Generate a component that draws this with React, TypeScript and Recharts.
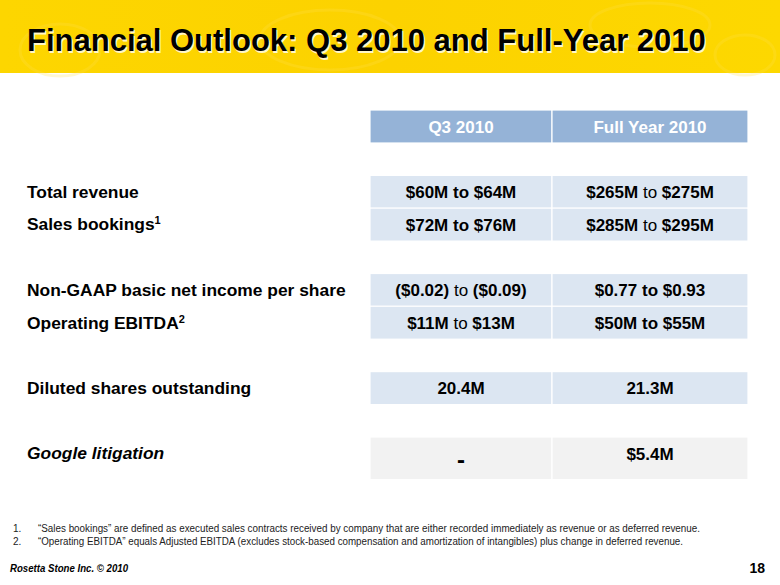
import React from 'react';
import { BarChart, Bar, XAxis, YAxis, LabelList, Customized } from 'recharts';

// ---------- data ----------
const rowKinds = ['head', 'gap', 'data', 'data', 'gap', 'data', 'data', 'gap', 'data', 'gap', 'lit'];
const rowLabels = [
  '',
  '',
  'Total revenue',
  'Sales bookings',
  '',
  'Non-GAAP basic net income per share',
  'Operating EBITDA',
  '',
  'Diluted shares outstanding',
  '',
  'Google litigation',
];
const rowNotes = ['', '', '', '1', '', '', '2', '', '', '', ''];
const q3Values: (string | null)[] = [
  'Q3 2010',
  null,
  '$60M to $64M',
  '$72M to $76M',
  null,
  '($0.02) to ($0.09)',
  '$11M to $13M',
  null,
  '20.4M',
  null,
  '-',
];
const fyValues: (string | null)[] = [
  'Full Year 2010',
  null,
  '$265M to $275M',
  '$285M to $295M',
  null,
  '$0.77 to $0.93',
  '$50M to $55M',
  null,
  '21.3M',
  null,
  '$5.4M',
];
const footnotes = [
  '\u201cSales bookings\u201d are defined as executed sales contracts received by company that are either recorded immediately as revenue or as deferred revenue.',
  '\u201cOperating EBITDA\u201d equals Adjusted EBITDA (excludes stock-based compensation and amortization of intangibles) plus change in deferred revenue.',
];
const titleText = 'Financial Outlook: Q3 2010 and Full-Year 2010';
const footerText = 'Rosetta Stone Inc. \u00a9 2010';
const pageNumber = '18';

// ---------- layout / style ----------
const W = 780;
const H = 585;
const COL_WIDTHS = [182, 196];
const REGULAR_TO = new Set(['$265M to $275M', '$285M to $295M', '($0.02) to ($0.09)', '$11M to $13M']);
const FONT = 'Arial, "Liberation Sans", Helvetica, sans-serif';
const FILLS: Record<string, string> = { head: '#95b3d7', data: '#dce6f2', lit: '#f2f2f2' };

const rows = rowLabels.map((label, i) => ({
  id: 'r' + i,
  label,
  note: rowNotes[i],
  kind: rowKinds[i],
  q3Text: q3Values[i],
  fyText: fyValues[i],
  q3: q3Values[i] == null ? null : COL_WIDTHS[0],
  fy: fyValues[i] == null ? null : COL_WIDTHS[1],
}));

const CellShape = (props: any) => {
  const { x, y, width, height, payload } = props;
  if (!payload || width == null || height == null) return null;
  const h = payload.kind === 'lit' ? height * 1.29 : height;
  return (
    <rect
      x={x}
      y={y}
      width={width}
      height={h}
      fill={FILLS[payload.kind] || '#dce6f2'}
      stroke="#ffffff"
      strokeWidth={1.2}
    />
  );
};

const makeCellLabel = (textKey: 'q3Text' | 'fyText') => (props: any) => {
  const { x, y, width, height, index } = props;
  const row = rows[index];
  if (!row) return null;
  const text = row[textKey];
  if (text == null) return null;
  const cx = x + width / 2;
  const cy = y + height / 2;
  const color = row.kind === 'head' ? '#ffffff' : '#000000';
  if (text === '-') {
    return (
      <text x={cx} y={cy + 14} textAnchor="middle" fontFamily={FONT} fontWeight="bold" fontSize={24} fill="#000">
        -
      </text>
    );
  }
  if (REGULAR_TO.has(text)) {
    const parts = text.split(' to ');
    return (
      <text x={cx} y={cy + 6} textAnchor="middle" fontFamily={FONT} fontSize={17} fill={color}>
        <tspan fontWeight="bold">{parts[0]}</tspan>
        <tspan fontWeight="normal">{' to '}</tspan>
        <tspan fontWeight="bold">{parts[1]}</tspan>
      </text>
    );
  }
  return (
    <text x={cx} y={cy + 6} textAnchor="middle" fontFamily={FONT} fontWeight="bold" fontSize={17} fill={color}>
      {text}
    </text>
  );
};

const RowTick = (props: any) => {
  const { y, payload } = props;
  const row = rows[payload.index] || rows.find((r) => r.id === payload.value);
  if (!row || !row.label) return null;
  return (
    <text
      x={27}
      y={y + 6}
      textAnchor="start"
      fontFamily={FONT}
      fontWeight="bold"
      fontStyle={row.kind === 'lit' ? 'italic' : 'normal'}
      fontSize={17.4}
      fill="#000"
    >
      {row.label}
      {row.note ? (
        <tspan fontSize={11} dy={-6}>
          {row.note}
        </tspan>
      ) : null}
    </text>
  );
};

const Decor = () => (
  <g>
    <defs>
      <linearGradient id="band" x1="0" y1="0" x2="1" y2="0">
        <stop offset="0%" stopColor="#fdd600" />
        <stop offset="50%" stopColor="#fcd200" />
        <stop offset="100%" stopColor="#fdd800" />
      </linearGradient>
    </defs>
    <rect x={0} y={0} width={W} height={73} fill="url(#band)" />
    <g fill="none" stroke="#ffe04a" strokeWidth={3} opacity={0.25}>
      <ellipse cx={60} cy={50} rx={40} ry={26} />
      <ellipse cx={330} cy={40} rx={70} ry={30} />
      <ellipse cx={650} cy={25} rx={60} ry={22} />
      <ellipse cx={745} cy={55} rx={30} ry={20} />
    </g>
    <text x={28.5} y={52.5} fontFamily={FONT} fontWeight="bold" fontSize={31} fill="#fff6c8">
      {titleText}
    </text>
    <text x={27} y={51} fontFamily={FONT} fontWeight="bold" fontSize={31} fill="#000">
      {titleText}
    </text>
    {footnotes.map((f, i) => (
      <g key={i}>
        <text x={13} y={532 + i * 13} fontFamily={FONT} fontSize={10} fill="#222">
          {i + 1 + '.'}
        </text>
        <text
          x={38}
          y={532 + i * 13}
          fontFamily={FONT}
          fontSize={10}
          fill="#222"
          textLength={i === 0 ? 662 : 645}
          lengthAdjust="spacingAndGlyphs"
        >
          {f}
        </text>
      </g>
    ))}
    <text x={10} y={572} fontFamily={FONT} fontWeight="bold" fontStyle="italic" fontSize={10} fill="#000" textLength={118} lengthAdjust="spacingAndGlyphs">
      {footerText}
    </text>
    <text x={765} y={573} textAnchor="end" fontFamily={FONT} fontWeight="bold" fontSize={14} fill="#000">
      {pageNumber}
    </text>
  </g>
);

export default function App() {
  const plotTop = 110;
  const plotBottom = 469.7;
  return (
    <div style={{ position: 'absolute', left: 0, top: 0, width: W, height: H, background: '#fff' }}>
      <BarChart
        width={W}
        height={H}
        data={rows}
        layout="vertical"
        margin={{ top: plotTop, right: W - 748, bottom: H - plotBottom, left: 0 }}
        barCategoryGap={0}
        barGap={0}
      >
        <Customized component={Decor} />
        <XAxis type="number" domain={[0, COL_WIDTHS[0] + COL_WIDTHS[1]]} hide />
        <YAxis
          type="category"
          dataKey="id"
          width={370}
          axisLine={false}
          tickLine={false}
          tick={(p: any) => <RowTick {...p} />}
          interval={0}
        />
        <Bar dataKey="q3" stackId="t" isAnimationActive={false} shape={(p: any) => <CellShape {...p} />}>
          <LabelList dataKey="q3" content={makeCellLabel('q3Text')} />
        </Bar>
        <Bar dataKey="fy" stackId="t" isAnimationActive={false} shape={(p: any) => <CellShape {...p} />}>
          <LabelList dataKey="fy" content={makeCellLabel('fyText')} />
        </Bar>
      </BarChart>
    </div>
  );
}
